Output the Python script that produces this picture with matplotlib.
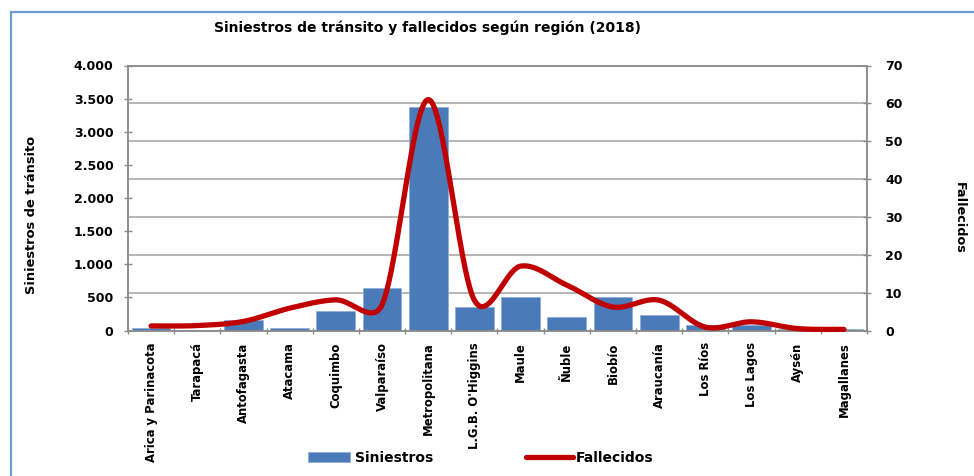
import numpy as np
import matplotlib
matplotlib.use("Agg")
import matplotlib.pyplot as plt
from matplotlib.ticker import FixedLocator, FuncFormatter
from matplotlib.patches import Rectangle
from matplotlib.lines import Line2D

regiones = ["Arica y Parinacota", "Tarapacá", "Antofagasta", "Atacama", "Coquimbo",
            "Valparaíso", "Metropolitana", "L.G.B. O'Higgins", "Maule", "Ñuble",
            "Biobío", "Araucanía", "Los Ríos", "Los Lagos", "Aysén", "Magallanes"]
siniestros = [42, 15, 158, 42, 294, 646, 3374, 350, 510, 199, 510, 238, 83, 90, 25, 27]
fallecidos = [1.2, 1.3, 2.4, 5.9, 8.1, 6.8, 61, 8, 17, 12, 6.2, 8, 0.9, 2.3, 0.5, 0.3]
left_ticks = [0, 500, 1000, 1500, 2000, 2500, 3000, 3500, 4000]
right_ticks = [0, 10, 20, 30, 40, 50, 60, 70]

plt.rcParams['font.family'] = ['DejaVu Sans']
W, H = 974, 476
fig = plt.figure(figsize=(W/100, H/100), dpi=100)

# light blue chart border
fig.add_artist(Rectangle((11/W, -0.1), (W + 50)/W, 1 - 12/H + 0.1, transform=fig.transFigure,
                         fill=False, edgecolor='#6f9bd3', linewidth=1.6))

ax = fig.add_axes([128/W, 1 - 330.5/H, 739/W, 265/H])
ax2 = ax.twinx()

bar_color = '#4a7ab8'
gray = '#8c8c8c'
x = np.arange(len(regiones))
ax.bar(x, siniestros, width=0.84, color=bar_color, edgecolor='#8fb0d8', linewidth=0.6,
       label='Siniestros', zorder=2)
ax.set_xlim(-0.5, len(regiones) - 0.5)
ax.set_ylim(0, 4000)
ax2.set_ylim(0, 70)

# gridlines aligned with the right axis ticks
ymax_l = 4000
ax.yaxis.set_minor_locator(FixedLocator([v * ymax_l / 70 for v in right_ticks]))
ax.grid(which='minor', axis='y', color='#a0a0a0', linewidth=1.1, zorder=0)
ax.set_axisbelow(True)
ax.tick_params(axis='y', which='minor', length=0)

ax.set_yticks(left_ticks)
ax.yaxis.set_major_formatter(FuncFormatter(lambda v, p: f"{int(v):,}".replace(",", ".")))
ax.tick_params(axis='y', which='major', direction='inout', length=6, width=1, color=gray,
               pad=7.5, labelsize=9)
for lab in ax.get_yticklabels():
    lab.set_fontweight('bold')

ax2.set_yticks(right_ticks)
ax2.tick_params(axis='y', direction='inout', length=6, width=1, color=gray, pad=10, labelsize=9)
for lab in ax2.get_yticklabels():
    lab.set_fontweight('bold')

ax.set_xticks(x)
ax.set_xticklabels(regiones, rotation=90, fontsize=8.4, fontweight='bold', va='top')
ax.tick_params(axis='x', which='major', length=0, pad=8.5)
ax.xaxis.set_minor_locator(FixedLocator(np.arange(-0.5, len(regiones), 1.0)))
ax.tick_params(axis='x', which='minor', direction='inout', length=5, width=1, color=gray)

for a in (ax, ax2):
    for s in a.spines.values():
        s.set_color(gray)
        s.set_linewidth(1.1)


def excel_smooth(axis, xs, ys, n=40):
    pts = axis.transData.transform(np.column_stack([xs, ys]))
    P = np.vstack([pts[0], pts, pts[-1]])
    out = []
    t = np.linspace(0, 1, n)[:, None]
    for i in range(1, len(P) - 2):
        p0, p1, p2, p3 = P[i - 1], P[i], P[i + 1], P[i + 2]
        seg = np.linalg.norm(p2 - p1)
        v1 = (p2 - p0) / 6.0
        v2 = (p3 - p1) / 6.0
        l1 = np.linalg.norm(v1)
        l2 = np.linalg.norm(v2)
        if l1 > seg / 2:
            v1 = v1 * (seg / 2) / l1
        if l2 > seg / 2:
            v2 = v2 * (seg / 2) / l2
        c1 = p1 + v1
        c2 = p2 - v2
        b = (1 - t) ** 3 * p1 + 3 * (1 - t) ** 2 * t * c1 + 3 * (1 - t) * t ** 2 * c2 + t ** 3 * p2
        out.append(b if i == 1 else b[1:])
    curve = np.vstack(out)
    return axis.transData.inverted().transform(curve)


curve = excel_smooth(ax2, x, fallecidos)
line_color = '#c00000'
ax2.plot(curve[:, 0], curve[:, 1], color=line_color, linewidth=3.8, solid_capstyle='round',
         zorder=3, clip_on=False)

ax.set_ylabel('Siniestros de tránsito', fontsize=9.4, fontweight='bold')
ax.yaxis.set_label_coords((38 - 128) / 739, (330.5 - 215.5) / 265)
ax2.set_ylabel('Fallecidos', fontsize=9.2, fontweight='bold', rotation=-90, va='center')
ax2.yaxis.set_label_coords((959 - 128) / 739, (330.5 - 218) / 265)

fig.text(427 / W, 1 - 28 / H, 'Siniestros de tránsito y fallecidos según región (2018)',
         ha='center', va='center', fontsize=10, fontweight='bold')

h1 = Rectangle((0, 0), 1, 1, facecolor=bar_color, edgecolor='#8fb0d8', linewidth=0.6)
h2 = Line2D([], [], color=line_color, linewidth=3.8, solid_capstyle='round')
fig.legend([h1], ['Siniestros'], loc='center left', bbox_to_anchor=(308 / W, 1 - 458 / H),
           frameon=False, borderpad=0, borderaxespad=0, handlelength=3.0, handleheight=0.75,
           handletextpad=0.36, prop={'size': 10, 'weight': 'bold'})
fig.legend([h2], ['Fallecidos'], loc='center left', bbox_to_anchor=(526 / W, 1 - 458 / H),
           frameon=False, borderpad=0, borderaxespad=0, handlelength=3.4,
           handletextpad=0.2, prop={'size': 10, 'weight': 'bold'})

fig.savefig('out.png', dpi=100)
